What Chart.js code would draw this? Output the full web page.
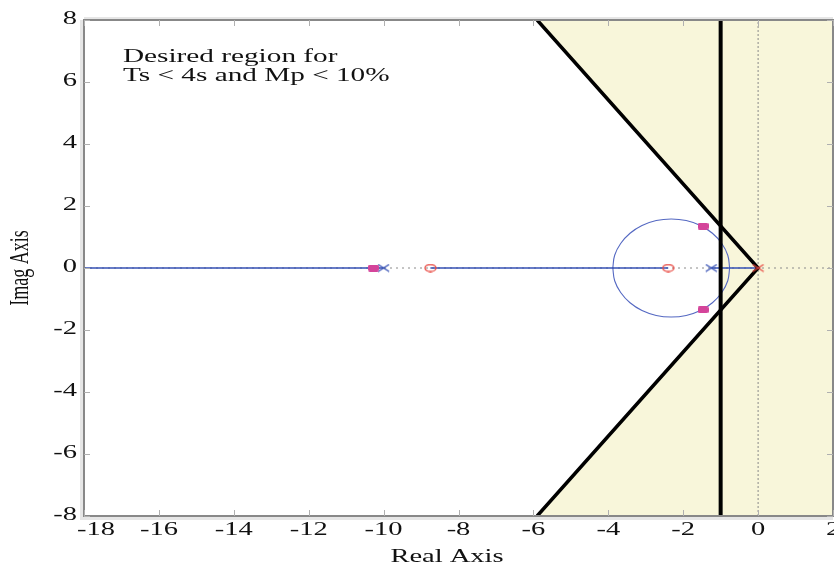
<!DOCTYPE html>
<html>
<head>
<meta charset="utf-8">
<title>Root locus</title>
<script src="https://cdn.jsdelivr.net/npm/chart.js@4.4.1/dist/chart.umd.min.js"></script>
<style>
    html, body { margin: 0; padding: 0; background: #fff; }
    #wrap { width: 834px; height: 567px; }
</style>
</head>
<body>
<div id="wrap"><canvas id="locus"></canvas></div>
<script>
    "use strict";

    const xTicks = [-18, -16, -14, -12, -10, -8, -6, -4, -2, 0, 2];
    const yTicks = [-8, -6, -4, -2, 0, 2, 4, 6, 8];

    // open loop poles / zeros
    const bluePoles = [-10, -1.25];
    const redPoles = [0];
    const zeros = [-8.75, -2.4];
    // closed loop poles for the chosen gain
    const clPolesX = [-10.27, -1.47, -1.47];
    const clPolesY = [0, 1.35, -1.35];

    // real axis parts of the locus
    const realBranches = [[-18, -10], [-8.75, -2.4], [-1.25, 0]];
    // complex branch (upper half), breakaway -0.76 to break-in -3.88
    const branchX = [-0.76, -0.81, -0.97, -1.22, -1.54, -1.92, -2.32, -2.72, -3.10, -3.42, -3.67, -3.83, -3.88];
    const branchY = [0, 0.41, 0.79, 1.12, 1.37, 1.53, 1.58, 1.53, 1.37, 1.12, 0.79, 0.41, 0];

    // design limits: sigma line and damping cone edges
    const sigmaX = [-1, -1];
    const sigmaY = [-8, 8];
    const coneX = [-5.9, 0, -5.9];
    const coneY = [8, 0, -8];
    // region outside the spec
    const shadeX = [-5.9, -1, -1, -5.9, 2, 2, -5.9];
    const shadeY = [8, 1.355, -1.355, -8, -8, 8, 8];

    const SERIF = '"Liberation Serif", "Times New Roman", serif';
    const STRETCH = 1.5;   // text is drawn wide, like the rest of the figure
    const INK = '#111111';
    const BLUE = '#3550b5';
    const RED = '#e8463f';
    const MAGENTA = '#d4449a';

    const pts = (xs, ys) => xs.map((x, i) => ({x: x, y: ys[i]}));
    const onAxis = (xs) => xs.map((x) => ({x: x, y: 0}));

    // markers are a bit wider than tall, so build them on small canvases
    function marker(w, h, paint) {
        const c = document.createElement('canvas');
        c.width = w;
        c.height = h;
        paint(c.getContext('2d'), w, h);
        return c;
    }

    const squareMark = marker(11, 7, function (g, w, h) {
        g.fillStyle = MAGENTA;
        g.beginPath();
        g.roundRect(0, 0, w, h, 2);
        g.fill();
    });
    const circleMark = marker(13, 9, function (g, w, h) {
        g.strokeStyle = RED;
        g.lineWidth = 1.3;
        g.beginPath();
        g.ellipse(w / 2, h / 2, w / 2 - 1, h / 2 - 1, 0, 0, Math.PI * 2);
        g.stroke();
    });
    const crossMark = (color) => marker(13, 9, function (g, w, h) {
        g.strokeStyle = color;
        g.lineWidth = 1.3;
        g.beginPath();
        g.moveTo(1, 1); g.lineTo(w - 1, h - 1);
        g.moveTo(1, h - 1); g.lineTo(w - 1, 1);
        g.stroke();
    });

    const datasets = [];

    datasets.push({data: pts(clPolesX, clPolesY), pointStyle: squareMark, order: 0});
    datasets.push({data: onAxis(zeros), pointStyle: circleMark, order: 1});
    datasets.push({data: onAxis(redPoles), pointStyle: crossMark(RED), order: 1});
    datasets.push({data: onAxis(bluePoles), pointStyle: crossMark(BLUE), order: 1});

    // spec boundaries
    datasets.push({
        data: pts(sigmaX, sigmaY), showLine: true, pointRadius: 0,
        borderColor: '#000', borderWidth: 4, order: 2
    });
    datasets.push({
        data: pts(coneX, coneY), showLine: true, pointRadius: 0,
        borderColor: '#000', borderWidth: 3.5, order: 2
    });

    // locus branches
    realBranches.forEach(function (seg) {
        datasets.push({
            data: onAxis(seg), showLine: true, pointRadius: 0,
            borderColor: BLUE, borderWidth: 1.4, order: 3
        });
    });
    datasets.push({
        data: pts(branchX, branchY), showLine: true, pointRadius: 0, tension: 0.4,
        borderColor: '#5468c2', borderWidth: 1.1, order: 3
    });
    datasets.push({
        data: pts(branchX, branchY.map((y) => -y)), showLine: true, pointRadius: 0, tension: 0.4,
        borderColor: '#5468c2', borderWidth: 1.1, order: 3
    });

    // dotted real / imaginary axes
    datasets.push({
        data: [{x: -18, y: 0}, {x: 2, y: 0}], showLine: true, pointRadius: 0,
        borderColor: '#8a8a8a', borderWidth: 1, borderDash: [2, 4], order: 4
    });
    datasets.push({
        data: [{x: 0, y: -8}, {x: 0, y: 8}], showLine: true, pointRadius: 0,
        borderColor: '#8a8a8a', borderWidth: 1, borderDash: [2, 2], order: 4
    });

    datasets.push({
        data: pts(shadeX, shadeY), showLine: true, pointRadius: 0, borderWidth: 0,
        borderColor: 'rgba(0,0,0,0)', backgroundColor: '#f8f6da', fill: 'shape', order: 5
    });

    function wideText(ctx, text, x, y, align, rotate) {
        ctx.save();
        ctx.translate(x, y);
        if (rotate) ctx.rotate(-Math.PI / 2);
        ctx.scale(rotate ? 1 : STRETCH, rotate ? STRETCH : 1);
        ctx.textAlign = align;
        ctx.fillText(text, 0, 0);
        ctx.restore();
    }

    // box with inward ticks, tick labels, axis names and the note
    const framePlugin = {
        id: 'frame',
        afterDraw: function (chart) {
            const ctx = chart.ctx;
            const a = chart.chartArea;
            const sx = chart.scales.x;
            const sy = chart.scales.y;
            ctx.save();

            ctx.strokeStyle = '#e6e6e6';
            ctx.lineWidth = 3;
            ctx.beginPath();
            ctx.moveTo(a.left - 2.5, a.top);
            ctx.lineTo(a.left - 2.5, a.bottom + 2.5);
            ctx.lineTo(a.right, a.bottom + 2.5);
            ctx.moveTo(a.left, a.top - 1.5);
            ctx.lineTo(a.right, a.top - 1.5);
            ctx.stroke();

            ctx.strokeStyle = '#888888';
            ctx.lineWidth = 2;
            ctx.strokeRect(a.left, a.top, a.right - a.left, a.bottom - a.top);

            ctx.strokeStyle = '#b0b0b0';
            ctx.lineWidth = 1;
            ctx.beginPath();
            xTicks.forEach(function (v) {
                const px = Math.round(sx.getPixelForValue(v)) + 0.5;
                ctx.moveTo(px, a.bottom);
                ctx.lineTo(px, a.bottom - 6);
                ctx.moveTo(px, a.top);
                ctx.lineTo(px, a.top + 6);
            });
            yTicks.forEach(function (v) {
                const py = Math.round(sy.getPixelForValue(v)) + 0.5;
                ctx.moveTo(a.left, py);
                ctx.lineTo(a.left + 6, py);
                ctx.moveTo(a.right, py);
                ctx.lineTo(a.right - 6, py);
            });
            ctx.stroke();

            ctx.fillStyle = INK;
            ctx.font = '19px ' + SERIF;
            ctx.textBaseline = 'alphabetic';

            xTicks.forEach(function (v) {
                const label = String(v);
                const w = ctx.measureText(label).width * STRETCH;
                const left = Math.max(sx.getPixelForValue(v) - w / 2, 77);
                wideText(ctx, label, left, a.bottom + 19, 'left');
            });
            yTicks.forEach(function (v) {
                wideText(ctx, String(v), a.left - 7, sy.getPixelForValue(v) + 4, 'right');
            });

            wideText(ctx, 'Real Axis', 447, 562, 'center');
            ctx.font = '18px ' + SERIF;
            wideText(ctx, 'Imag Axis', 28, (a.top + a.bottom) / 2, 'center', true);

            ctx.font = '19.5px ' + SERIF;
            wideText(ctx, 'Desired region for', 123, 62, 'left');
            wideText(ctx, 'Ts < 4s and Mp < 10%', 123, 81, 'left');
            ctx.restore();
        }
    };

    new Chart(document.getElementById('locus'), {
        type: 'scatter',
        data: {datasets: datasets},
        options: {
            responsive: true,
            maintainAspectRatio: false,
            animation: false,
            layout: {autoPadding: false, padding: {top: 20, right: 1, left: 0, bottom: 0}},
            plugins: {legend: {display: false}, tooltip: {enabled: false}},
            scales: {
                x: {
                    type: 'linear', min: -18, max: 2,
                    afterFit: function (s) { s.height = 51; s.paddingLeft = 0; s.paddingRight = 0; },
                    grid: {display: false},
                    border: {display: false},
                    ticks: {display: false}
                },
                y: {
                    type: 'linear', min: -8, max: 8,
                    afterFit: function (s) { s.width = 84; s.paddingTop = 0; s.paddingBottom = 0; },
                    grid: {display: false},
                    border: {display: false},
                    ticks: {display: false}
                }
            }
        },
        plugins: [framePlugin]
    });
</script>
</body>
</html>
